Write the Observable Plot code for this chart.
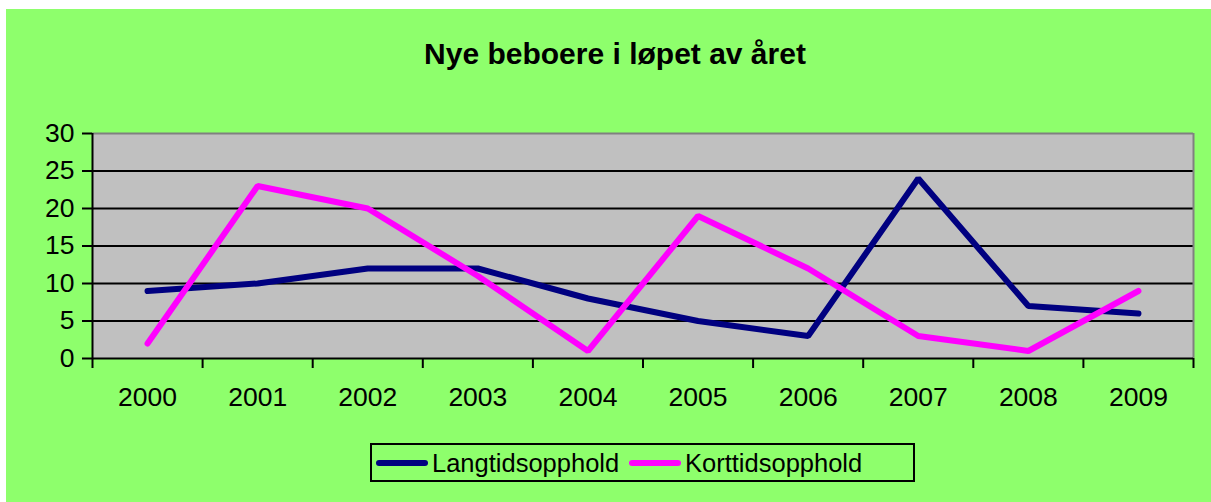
<!DOCTYPE html>
<html>
<head>
<meta charset="utf-8">
<script src="https://cdn.jsdelivr.net/npm/d3@7"></script>
<script src="https://cdn.jsdelivr.net/npm/@observablehq/plot@0.6"></script>
<style>
  html, body { margin: 0; padding: 0; background: #ffffff; }
  #page { position: relative; width: 1211px; height: 502px; overflow: hidden; }
  #bg { position: absolute; left: 6px; top: 9px; width: 1205px; height: 493px; background: #8eff6c; }
  #title { position: absolute; left: 0; width: 1230px; top: 37px; text-align: center;
    font-family: "Liberation Sans", Arial, sans-serif; font-weight: bold; font-size: 30px; line-height: 34px; color: #000; }
  #chart { position: absolute; left: 0; top: 0; }
  #legend { position: absolute; left: 370px; top: 443px; width: 541px; height: 35px; border: 2px solid #000;
    font-family: "Liberation Sans", Arial, sans-serif; font-size: 25.5px; color: #000; }
  .item { position: absolute; top: 3px; display: flex; align-items: center; height: 30px; }
  .sw { width: 52px; height: 6px; border-radius: 3px; margin-right: 4px; }
</style>
</head>
<body>
<div id="page">
  <div id="bg"></div>
  <div id="title">Nye beboere i løpet av året</div>
  <div id="chart"></div>
  <div id="legend"></div>
</div>
<script>
const years = [2000, 2001, 2002, 2003, 2004, 2005, 2006, 2007, 2008, 2009];
const langtid = [9, 10, 12, 12, 8, 5, 3, 24, 7, 6];
const korttid = [2, 23, 20, 11, 1, 19, 12, 3, 1, 9];
const seriesNames = ["Langtidsopphold", "Korttidsopphold"];
const seriesColors = ["#000080", "#ff00ff"];
const yTicks = [0, 5, 10, 15, 20, 25, 30];
const gridTicks = [5, 10, 15, 20, 25];

const rows = [];
years.forEach((yr, i) => {
  rows.push({year: yr, value: langtid[i], series: seriesNames[0]});
  rows.push({year: yr, value: korttid[i], series: seriesNames[1]});
});
const boundaries = d3.range(years.length + 1).map(i => years[0] - 0.5 + i);

const chart = Plot.plot({
  width: 1211,
  height: 420,
  marginLeft: 92,
  marginRight: 18,
  marginTop: 133,
  marginBottom: 62,
  style: {background: "transparent", fontFamily: "Liberation Sans, Arial, sans-serif", fontSize: "26px", color: "#000"},
  x: {domain: [years[0] - 0.5, years[years.length - 1] + 0.5]},
  y: {domain: [0, 30]},
  color: {domain: seriesNames, range: seriesColors},
  marks: [
    Plot.frame({fill: "#c0c0c0", stroke: "none"}),
    Plot.ruleY(gridTicks, {stroke: "#000", strokeWidth: 2}),
    Plot.ruleY([30], {stroke: "#808080", strokeWidth: 2}),
    Plot.ruleX([boundaries[boundaries.length - 1]], {stroke: "#808080", strokeWidth: 2}),
    Plot.ruleY([0], {stroke: "#000", strokeWidth: 2}),
    Plot.ruleX([boundaries[0]], {stroke: "#000", strokeWidth: 2}),
    Plot.axisY({ticks: yTicks, tickSize: 10, tickPadding: 8, tickFormat: d => String(d), stroke: "#000", strokeWidth: 2, label: null, fontSize: 26.5}),
    Plot.axisX({ticks: boundaries, tickSize: 10, tickFormat: () => "", stroke: "#000", strokeWidth: 2, label: null}),
    Plot.axisX({ticks: years, tickSize: 0, tickPadding: 29, tickFormat: d => String(d), label: null, fontSize: 26.5}),
    Plot.line(rows, {x: "year", y: "value", z: "series", stroke: "series", strokeWidth: 6, strokeLinejoin: "miter", strokeLinecap: "round"})
  ]
});
document.getElementById("chart").appendChild(chart);

const legend = document.getElementById("legend");
const positions = [4, 257];
seriesNames.forEach((name, i) => {
  const it = document.createElement("div");
  it.className = "item";
  it.style.left = positions[i] + "px";
  const sw = document.createElement("div");
  sw.className = "sw";
  sw.style.background = seriesColors[i];
  const t = document.createElement("span");
  t.textContent = name;
  it.appendChild(sw);
  it.appendChild(t);
  legend.appendChild(it);
});
</script>
</body>
</html>
